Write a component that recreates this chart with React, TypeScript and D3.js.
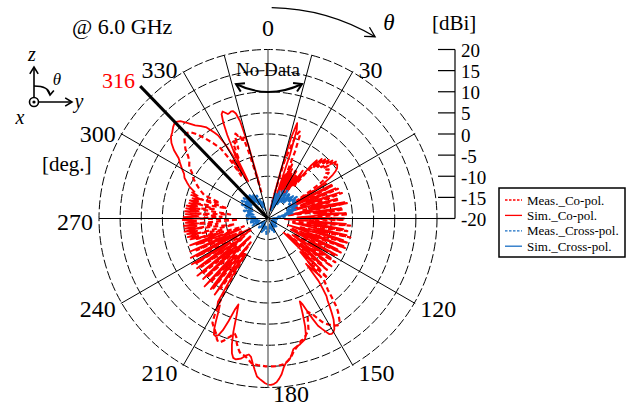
import React from 'react';
import * as d3 from 'd3';

// polar radiation pattern @ 6.0 GHz, D3 scales + JSX
const W = 633;
const H = 405;
const CX = 268;
const CY = 218.5;
const R = 169;
const SERIF = "'Liberation Serif', 'Times New Roman', serif";

const ringLevels = [-15, -10, -5, 0, 5, 10, 15, 20];
const scaleTicks = [20, 15, 10, 5, 0, -5, -10, -15, -20];
const spokeAngles = [30, 60, 120, 150, 210, 240, 300, 330];
const angleLabels = [0, 30, 120, 150, 180, 210, 240, 270, 300, 330];
const noDataAngles = [-15, 15];
const markerAngle = 316;

// [theta deg, dBi]
const simCo: [number, number][] = [
  [14, -18], [15, -8], [16, 0], [17, 3.6], [18, 2], [19, -4], [20, -14], [21, -9], [22, -15], [23, -8],
  [24, -12], [26, -7], [27, -13], [28, -8], [30, -11], [31, -7], [32, -12], [34, -8], [35, -13], [36, -6],
  [38, -10], [39, -4], [40, -2], [41, -3.5], [42, -1], [43, -2], [44, -0.5], [45, -1.5], [46, 0], [47, -1],
  [48, 0.5], [49, -0.5], [50, 1], [51, 0.3], [52, 0.8], [53, 0.5], [54, 0.2], [55, -0.5], [56, -1.5], [57, -3],
  [58, -5], [59, -8], [60, -14], [62, -3], [64, -13], [66, -2.5], [68, -11], [70, -2], [72, -15], [74, -3],
  [76, -10], [78, -1.5], [80, -14], [82, -2.5], [84, -9], [86, -1.5], [88, -13], [90, -2], [92, -16], [94, -1.5],
  [96, -10], [98, -2], [100, -14], [102, -1], [104, -9], [106, -1.5], [108, -15], [110, -1], [112, -11], [114, -2],
  [116, -14], [118, -1.5], [120, -9], [122, -2.5], [124, -13], [126, -3], [128, -10], [130, -3.5], [132, -15], [134, -3],
  [136, -9], [138, -2], [140, -6], [141, -1], [142, 1], [143, 3], [144, 4], [145, 5.5], [146, 7], [147, 8.5],
  [148, 9.5], [149, 10.5], [150, 11], [151, 11.2], [152, 11], [153, 10], [154, 9], [155, 8], [156, 6], [157, 4],
  [158, 2], [159, 1], [160, 4], [161, 7], [162, 9], [163, 9.9], [164, 10.2], [165, 10.5], [166, 10.8], [167, 11],
  [168, 11.2], [169, 11.5], [170, 12.5], [171, 13.5], [172, 14], [173, 14.5], [174, 15.5], [175, 17], [176, 18], [177, 18.8],
  [178, 19.2], [179, 19.4], [180, 19.3], [181, 19], [182, 18.5], [183, 18], [184, 17.5], [185, 16], [186, 14.5], [187, 13],
  [188, 12.5], [189, 12.8], [190, 13.3], [191, 13.8], [192, 14], [193, 14.2], [194, 14], [195, 13], [196, 11], [197, 8],
  [198, 4], [199, 1.5], [200, 3], [201, 6], [202, 8.5], [203, 10], [204, 10.5], [205, 10.3], [206, 9], [207, 7],
  [208, 5], [209, 3.5], [210, 4], [211, 3], [213, -9], [215, 2], [217, -12], [219, 1.5], [221, -8], [223, 2],
  [225, -14], [227, 1], [229, -10], [231, 1.5], [233, -13], [235, 0.5], [237, -9], [239, 1], [241, -15], [243, 0.5],
  [245, -11], [247, 0], [249, -13], [251, -0.5], [253, -8], [255, -1], [256, -3], [257, -0.5], [258, -3.5], [259, -0.5],
  [260, -3], [261, 0], [262, -3.5], [263, -0.2], [264, -3], [265, 0], [266, -3.5], [267, -0.5], [268, -3], [269, 0.2],
  [270, -3], [271, 0], [272, -3.5], [273, -0.5], [274, -3], [275, -0.3], [276, -3.5], [277, -0.5], [278, -3.2], [279, -0.5],
  [280, -3], [281, -1], [282, -3.5], [283, -1], [284, -3], [285, -1.5], [286, -3.5], [287, -1], [288, -2.5], [289, -1],
  [290, -1.5], [292, 0], [294, 1], [296, 2], [298, 2.5], [300, 3.5], [302, 4.5], [304, 5.5], [306, 7.5], [308, 9],
  [310, 10], [312, 10.5], [314, 11.2], [316, 11.7], [318, 11], [320, 9.5], [322, 8], [324, 7], [326, 6], [328, 4],
  [329, 3], [330, 0.5], [331, -4], [332, -10], [333, -2], [334, 2], [335, 5], [336, 7], [337, 7.5], [338, 7],
  [339, 6.5], [340, 6.6], [341, 6.8], [342, 6.7], [343, 6], [344, 4], [345, -2], [346, -12],
];

const measCo: [number, number][] = [
  [14, -16], [16, -6], [18, -1], [19, 1], [20, 1.9], [21, 1], [22, -3], [23, -12], [24, -6], [25, -14],
  [26, -8], [28, -12], [30, -7], [32, -13], [33, -8], [35, -12], [37, -7], [39, -10], [40, -5], [41, -3],
  [42, -4], [43, -2], [44, -3], [45, -1], [46, -2.5], [47, -1.5], [48, -2], [49, -1], [50, -2], [51, -1.5],
  [52, -2.5], [53, -2], [54, -3.5], [55, -3], [56, -5], [57, -8], [58, -12], [59, -4], [61, -13], [63, -3],
  [65, -10], [67, -2], [69, -14], [71, -1.5], [73, -9], [75, -2.5], [77, -12], [79, -1], [81, -15], [83, -2],
  [85, -8], [87, -1], [89, -13], [91, -2], [93, -10], [95, -0.5], [97, -14], [99, -1], [101, -9], [103, 0],
  [105, -12], [107, -0.5], [109, -8], [111, -0.5], [113, -14], [115, -1], [117, -10], [119, -1.5], [121, -13], [123, -1],
  [125, -8], [127, -1], [129, -14], [131, -1.5], [133, -9], [135, 0], [137, -6], [138, 0], [139, 1], [140, 2],
  [141, 4], [142, 6], [143, 7.5], [144, 8.5], [145, 9.5], [146, 10], [147, 10.2], [148, 9.8], [149, 9.5], [150, 9],
  [151, 8.5], [152, 8], [153, 7], [154, 6], [155, 5], [156, 4.5], [157, 4], [158, 5], [159, 6.5], [160, 8],
  [161, 8.5], [162, 9], [163, 9.5], [164, 9.8], [165, 10], [166, 10.5], [167, 11], [168, 11.5], [169, 12], [170, 12.8],
  [171, 13.5], [172, 14], [173, 14.4], [174, 14.7], [175, 14.8], [176, 14.9], [177, 15], [178, 15], [179, 15], [180, 15],
  [181, 15], [182, 14.9], [183, 14.8], [184, 14.8], [185, 14.7], [186, 14.7], [187, 14.2], [188, 13.7], [189, 13.2], [190, 12.9],
  [191, 12.8], [192, 12.3], [193, 11.5], [194, 10.5], [195, 9], [196, 8.4], [197, 8.8], [198, 9.5], [199, 10], [200, 10.8],
  [201, 11.3], [202, 11.5], [203, 11], [204, 10], [205, 9.5], [206, 9], [207, 8.5], [208, 8], [209, 6], [210, 3],
  [211, -2], [212, -10], [214, 0], [216, -13], [218, 1], [220, -9], [222, 0.5], [224, -14], [226, 0], [228, -10],
  [230, 0.5], [232, -12], [234, -0.5], [236, -15], [238, 0], [240, -9], [242, -1], [244, -13], [246, -1.5], [248, -8],
  [250, -2], [252, -14], [254, -2.5], [256, -9], [258, -2], [260, -12], [262, -3], [264, -8], [266, -2.5], [268, -13],
  [270, -3], [272, -9], [274, -2.5], [276, -11], [278, -3], [280, -7], [282, -2.5], [284, -10], [286, -3.5], [288, -8],
  [290, -4], [292, -3], [294, -2], [296, -1], [298, 0], [300, 0.5], [302, 1.5], [304, 2.5], [306, 3], [308, 4],
  [310, 5.5], [312, 6.5], [314, 7.5], [316, 8], [318, 7.5], [320, 6], [322, 4], [324, 2], [326, 0], [327, -3],
  [328, -8], [329, -4], [330, -6], [331, -10], [332, -5], [333, -2], [334, -4], [335, -1], [336, 0], [337, -2],
  [338, 0.5], [339, 1.5], [340, 0.8], [341, 1], [342, -1], [343, 0], [344, -4], [345, -10], [346, -14],
];

const simCross: [number, number][] = [
  [15, -17], [18, -14], [21, -18], [24, -13.5], [27, -17], [30, -13], [33, -16], [36, -12.5], [39, -15], [42, -12.5],
  [45, -14], [48, -12], [51, -13.5], [54, -12], [57, -13], [60, -12.5], [63, -14], [66, -12.5], [69, -14.5], [72, -13],
  [75, -15.5], [78, -14], [81, -17], [85, -18], [90, -19], [100, -18.5], [110, -19], [120, -18], [130, -19], [140, -17.5],
  [150, -18.5], [160, -17], [170, -18], [180, -16.5], [190, -18], [200, -17], [210, -18.5], [220, -17.5], [230, -19], [240, -17.5],
  [250, -16.5], [255, -18], [260, -16], [265, -17.5], [270, -15.5], [275, -17], [280, -15], [285, -16.5], [290, -14.5], [295, -16],
  [300, -13.5], [303, -15.5], [306, -13], [309, -15], [312, -13], [315, -14.5], [318, -13], [321, -15], [324, -13.5], [327, -16],
  [330, -14], [333, -17], [336, -15], [340, -17], [345, -18],
];

const measCross: [number, number][] = [
  [15, -16], [17, -13.5], [20, -17], [23, -13], [26, -16], [29, -12.5], [32, -15.5], [35, -12], [38, -14.5], [41, -12],
  [44, -15], [47, -12.5], [50, -14], [53, -11.5], [56, -14], [59, -12], [62, -15], [65, -12.5], [68, -15.5], [71, -13.5],
  [74, -16], [77, -14.5], [80, -17.5], [84, -16], [88, -18.5], [95, -17.5], [105, -19], [115, -17.5], [125, -18.5], [135, -17],
  [145, -18], [155, -16.5], [165, -18.5], [175, -17], [185, -16], [195, -18], [205, -16.5], [215, -18], [225, -17], [235, -18.5],
  [245, -16], [252, -17.5], [258, -15.5], [263, -17], [268, -15], [273, -16.5], [278, -14.5], [283, -16], [288, -14], [293, -15.5],
  [298, -13], [301, -15], [304, -12.5], [307, -14.5], [310, -12.5], [313, -14], [316, -12], [319, -14.5], [322, -13], [325, -15],
  [328, -13.5], [331, -16], [334, -14], [338, -16.5], [342, -15.5], [345, -17],
];

const series = [
  { name: 'Meas._Co-pol.', data: measCo, color: '#ff0000', dash: '5,3', width: 2.2 },
  { name: 'Sim._Co-pol.', data: simCo, color: '#ff0000', dash: null, width: 1.8 },
  { name: 'Meas._Cross-pol.', data: measCross, color: '#1a6fc4', dash: '4,2', width: 2.2 },
  { name: 'Sim._Cross-pol.', data: simCross, color: '#1a6fc4', dash: null, width: 1.8 },
];

const rad = (a: number) => (a * Math.PI) / 180;
const px = (a: number, r: number) => CX + r * Math.sin(rad(a));
const py = (a: number, r: number) => CY - r * Math.cos(rad(a));

// V-shaped open arrowhead at (x,y) pointing along dir (radians, svg coords)
function arrowHead(x: number, y: number, dir: number, len = 9, spread = 0.45) {
  const a1 = dir + Math.PI - spread;
  const a2 = dir + Math.PI + spread;
  return `M${x + len * Math.cos(a1)},${y + len * Math.sin(a1)}L${x},${y}L${x + len * Math.cos(a2)},${y + len * Math.sin(a2)}`;
}

export default function App() {
  const rScale = d3.scaleLinear().domain([-20, 20]).range([0, R]).clamp(true);
  const yScale = d3.scaleLinear().domain([-20, 20]).range([CY, CY - R]);

  const line = d3
    .lineRadial<[number, number]>()
    .angle((d) => rad(d[0]))
    .radius((d) => rScale(d[1]));

  // theta arc at the top
  const thR = 211;
  const th0 = 1;
  const th1 = 30.5;
  const thPath = `M${px(th0, thR)},${py(th0, thR)}A${thR},${thR} 0 0 1 ${px(th1, thR)},${py(th1, thR)}`;
  const thDir = rad(th1); // tangent of clockwise motion
  const thHead = arrowHead(px(th1, thR), py(th1, thR), thDir, 11, 0.5);

  // "No Data" double arrow
  const ndL = [236, 84];
  const ndR = [302, 84];
  const ndC = [268, 100];
  const ndPath = `M${ndL[0]},${ndL[1]}Q${ndC[0]},${ndC[1]} ${ndR[0]},${ndR[1]}`;
  const ndHeadL = arrowHead(ndL[0], ndL[1], Math.atan2(ndL[1] - ndC[1], ndL[0] - ndC[0]), 9, 0.55);
  const ndHeadR = arrowHead(ndR[0], ndR[1], Math.atan2(ndR[1] - ndC[1], ndR[0] - ndC[0]), 9, 0.55);

  const scaleX = 455;

  const labelPos = (a: number) => {
    const ex = px(a, R);
    const ey = py(a, R);
    if (a === 0) return { x: ex, y: ey - 22, anchor: 'middle' };
    if (a === 180) return { x: ex + 5, y: ey + 6, anchor: 'start' };
    const s = Math.sin(rad(a));
    return { x: ex + (s > 0 ? 6 : -6), y: ey + 3 - 6 * Math.cos(rad(a)), anchor: s > 0 ? 'start' : 'end' };
  };

  const legX = 499;
  const legY = 188;

  return (
    <div style={{ position: 'absolute', left: 0, top: 0 }}>
      <svg width={W} height={H} style={{ display: 'block', background: '#fff' }} fontFamily={SERIF}>
        {/* rings */}
        <g fill="none" stroke="#000" strokeWidth={1} strokeDasharray="9,3">
          {ringLevels.map((v) => (
            <circle key={v} cx={CX} cy={CY} r={rScale(v)} />
          ))}
        </g>

        {/* data */}
        <g transform={`translate(${CX},${CY})`} fill="none" strokeLinejoin="round">
          {series.map((s) => (
            <path
              key={s.name}
              d={line(s.data) || ''}
              stroke={s.color}
              strokeWidth={s.width}
              strokeDasharray={s.dash || undefined}
            />
          ))}
        </g>

        {/* spokes */}
        <g stroke="#000" strokeWidth={1}>
          {spokeAngles.map((a) => (
            <line key={a} x1={CX} y1={CY} x2={px(a, R + 1)} y2={py(a, R + 1)} />
          ))}
          {noDataAngles.map((a) => (
            <line key={'nd' + a} x1={CX} y1={CY} x2={px(a, R)} y2={py(a, R)} />
          ))}
          <line x1={CX - R} y1={CY} x2={scaleX} y2={CY} />
        </g>
        <line x1={CX} y1={CY - R} x2={CX} y2={CY + R} stroke="#7a7a7a" strokeWidth={1.5} />
        <line x1={CX} y1={CY} x2={px(markerAngle, 184)} y2={py(markerAngle, 184)} stroke="#000" strokeWidth={3} />
        <text x={135} y={80} fill="#ff0000" fontSize={22} textAnchor="end" dominantBaseline="central">
          {markerAngle}
        </text>

        {/* angle labels */}
        {angleLabels.map((a) => {
          const p = labelPos(a);
          return (
            <text key={a} x={p.x} y={p.y} fontSize={24} textAnchor={p.anchor} dominantBaseline="central" fill="#000">
              {a}
            </text>
          );
        })}

        {/* dBi scale */}
        <line x1={scaleX} y1={yScale(20)} x2={scaleX} y2={yScale(-20)} stroke="#000" strokeWidth={1.2} />
        {scaleTicks.map((t) => (
          <g key={t}>
            <line x1={scaleX - 17} y1={yScale(t)} x2={scaleX} y2={yScale(t)} stroke="#000" strokeWidth={1.2} />
            <text x={scaleX + 6} y={yScale(t) + 1} fontSize={19} dominantBaseline="central" fill="#000">
              {t}
            </text>
          </g>
        ))}
        <text x={432} y={23} fontSize={21} dominantBaseline="central">[dBi]</text>

        {/* theta arrow */}
        <path d={thPath} fill="none" stroke="#000" strokeWidth={1.3} />
        <path d={thHead} fill="none" stroke="#000" strokeWidth={1.3} />
        <text x={389} y={22} fontSize={23} fontStyle="italic" textAnchor="middle" dominantBaseline="central">θ</text>

        {/* No Data */}
        <text x={268} y={69} fontSize={19} textAnchor="middle" dominantBaseline="central">No Data</text>
        <g fill="none" stroke="#000" strokeWidth={2}>
          <path d={ndPath} />
          <path d={ndHeadL} />
          <path d={ndHeadR} />
        </g>

        {/* titles */}
        <text x={72} y={26} fontSize={22} dominantBaseline="central">@ 6.0 GHz</text>
        <text x={42} y={164} fontSize={21} dominantBaseline="central">[deg.]</text>

        {/* coordinate icon */}
        <g stroke="#000" strokeWidth={1.6} fill="none">
          <line x1={34} y1={97} x2={34} y2={67} />
          <path d={arrowHead(34, 67, -Math.PI / 2, 8, 0.55)} />
          <line x1={39} y1={102} x2={72} y2={102} />
          <path d={arrowHead(72, 102, 0, 8, 0.55)} />
          <path d="M34,86 Q49,86 50,95" />
          <path d={arrowHead(50, 95, Math.PI / 2 + 0.1, 6, 0.6)} />
          <circle cx={34} cy={102} r={4.5} fill="#fff" />
        </g>
        <circle cx={34} cy={102} r={1.6} fill="#000" />
        <text x={32} y={54} fontSize={20} fontStyle="italic" textAnchor="middle" dominantBaseline="central">z</text>
        <text x={79} y={101} fontSize={20} fontStyle="italic" textAnchor="middle" dominantBaseline="central">y</text>
        <text x={20} y={117} fontSize={20} fontStyle="italic" textAnchor="middle" dominantBaseline="central">x</text>
        <text x={57} y={79} fontSize={17} fontStyle="italic" textAnchor="middle" dominantBaseline="central">θ</text>

        {/* legend */}
        <rect x={legX} y={legY} width={126} height={69} fill="#fff" stroke="#000" strokeWidth={1.5} />
        {series.map((s, i) => {
          const y = legY + 12 + i * 15.4;
          return (
            <g key={s.name}>
              <line
                x1={legX + 6}
                x2={legX + 23}
                y1={y}
                y2={y}
                stroke={s.color}
                strokeWidth={1.3}
                strokeDasharray={s.dash ? '2.5,1.5' : undefined}
              />
              <text x={legX + 28} y={y} fontSize={13} dominantBaseline="central" fill="#000">
                {s.name}
              </text>
            </g>
          );
        })}
      </svg>
    </div>
  );
}
